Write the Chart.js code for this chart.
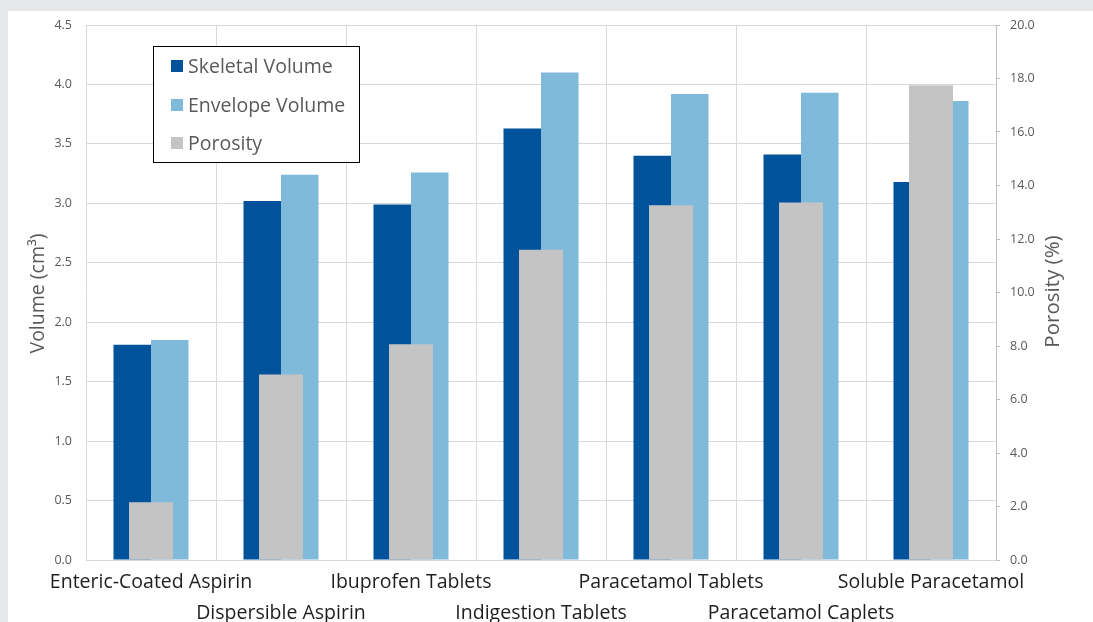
<!DOCTYPE html>
<html>
<head>
<meta charset="utf-8">
<script src="https://cdn.jsdelivr.net/npm/chart.js@4/dist/chart.umd.min.js"></script>
<style>
  html, body { margin: 0; padding: 0; background: #e6e7e9; }
  #wrap { width: 1093px; height: 622px; position: relative; }
</style>
</head>
<body>
<div id="wrap"><canvas id="c" width="1093" height="622"></canvas></div>
<script>
// Tablet samples and measured values
const categories = [
  'Enteric-Coated Aspirin', 'Dispersible Aspirin', 'Ibuprofen Tablets',
  'Indigestion Tablets', 'Paracetamol Tablets', 'Paracetamol Caplets',
  'Soluble Paracetamol'
];
const skeletalVolume = [1.81, 3.02, 2.99, 3.63, 3.40, 3.41, 3.18];   // cm³
const envelopeVolume = [1.85, 3.24, 3.26, 4.10, 3.92, 3.93, 3.86];   // cm³
const porosity       = [2.16, 6.93, 8.07, 11.60, 13.26, 13.36, 17.75]; // %

const seriesNames = ['Skeletal Volume', 'Envelope Volume', 'Porosity'];
const seriesColors = ['#00539b', '#80badb', '#c5c4c5'];

const FONT = '"Open Sans", "Noto Sans", sans-serif';
const TEXT_GREY = '#595959';
const GRID = '#d9d9d9';

// Page background, white panel, axis titles and the boxed legend
const decorPlugin = {
  id: 'decor',
  beforeDraw(chart) {
    const ctx = chart.ctx;
    ctx.save();
    ctx.fillStyle = '#e6e7e9';
    ctx.fillRect(0, 0, chart.width, chart.height);
    ctx.fillStyle = '#ffffff';
    ctx.fillRect(8, 11, chart.width - 8, chart.height - 11);
    ctx.restore();
  },
  afterDraw(chart) {
    const ctx = chart.ctx;
    const area = chart.chartArea;
    const midY = (area.top + area.bottom) / 2;
    ctx.save();
    ctx.fillStyle = TEXT_GREY;
    ctx.textAlign = 'center';
    ctx.textBaseline = 'middle';
    // left axis title
    ctx.font = '19.5px ' + FONT;
    ctx.save();
    ctx.translate(38, midY + 1);
    ctx.rotate(-Math.PI / 2);
    ctx.fillText('Volume (cm³)', 0, 0);
    ctx.restore();
    // right axis title
    ctx.font = '20.5px ' + FONT;
    ctx.save();
    ctx.translate(1053, midY - 1);
    ctx.rotate(-Math.PI / 2);
    ctx.fillText('Porosity (%)', 0, 0);
    ctx.restore();

    // legend box
    const bx = 153.5, by = 46.5, bw = 206, bh = 116;
    ctx.fillStyle = '#ffffff';
    ctx.fillRect(bx, by, bw, bh);
    ctx.strokeStyle = '#000000';
    ctx.lineWidth = 1;
    ctx.strokeRect(bx, by, bw, bh);
    const rows = [66, 105, 143];
    ctx.textAlign = 'left';
    ctx.font = '19.5px ' + FONT;
    seriesNames.forEach((name, i) => {
      ctx.fillStyle = seriesColors[i];
      ctx.fillRect(171, rows[i] - 6, 12, 12);
      ctx.fillStyle = TEXT_GREY;
      ctx.fillText(name, 188, rows[i] + 1);
    });
    ctx.restore();
  }
};

new Chart(document.getElementById('c'), {
  type: 'bar',
  data: {
    labels: categories,
    datasets: [
      {
        label: seriesNames[0], data: skeletalVolume,
        backgroundColor: seriesColors[0], borderWidth: 0,
        yAxisID: 'y', order: 1,
        categoryPercentage: 0.577, barPercentage: 1.0
      },
      {
        label: seriesNames[1], data: envelopeVolume,
        backgroundColor: seriesColors[1], borderWidth: 0,
        yAxisID: 'y', order: 1,
        categoryPercentage: 0.577, barPercentage: 1.0
      },
      {
        // porosity sits centred on each category, over the volume pair
        label: seriesNames[2], data: porosity,
        backgroundColor: seriesColors[2], borderWidth: 0,
        yAxisID: 'y2', order: 0, grouped: false,
        categoryPercentage: 1.0, barPercentage: 0.338
      }
    ]
  },
  options: {
    responsive: false,
    animation: false,
    layout: { padding: { top: 25, left: 0, right: 0, bottom: 0 } },
    plugins: {
      legend: { display: false },
      tooltip: { enabled: false }
    },
    scales: {
      x: {
        type: 'category',
        position: 'bottom',
        offset: true,
        grid: { color: GRID, offset: true, drawTicks: false },
        border: { color: GRID },
        ticks: {
          autoSkip: false, maxRotation: 0, minRotation: 0,
          padding: 7, color: '#1e1e1e',
          font: { family: FONT, size: 19.5, lineHeight: 1.59 },
          callback: function (value, index) {
            const l = this.getLabelForValue(value);
            return index % 2 ? ['', l] : l;
          }
        },
        afterFit(scale) { scale.height = 62; }
      },
      y: {
        position: 'left',
        min: 0, max: 4.5,
        grid: { color: GRID, drawTicks: false },
        border: { display: false },
        ticks: {
          stepSize: 0.5, padding: 14, color: TEXT_GREY,
          font: { family: FONT, size: 12.5 },
          callback: v => v.toFixed(1)
        },
        afterFit(scale) { scale.width = 86; }
      },
      y2: {
        position: 'right',
        min: 0, max: 20,
        grid: { drawOnChartArea: false, drawTicks: true, tickLength: 4, color: '#bfbfbf' },
        border: { color: '#bfbfbf' },
        ticks: {
          stepSize: 2, padding: 10, color: TEXT_GREY,
          font: { family: FONT, size: 12.5 },
          callback: v => v.toFixed(1)
        },
        afterFit(scale) { scale.width = 97; }
      }
    }
  },
  plugins: [decorPlugin]
});
</script>
</body>
</html>
